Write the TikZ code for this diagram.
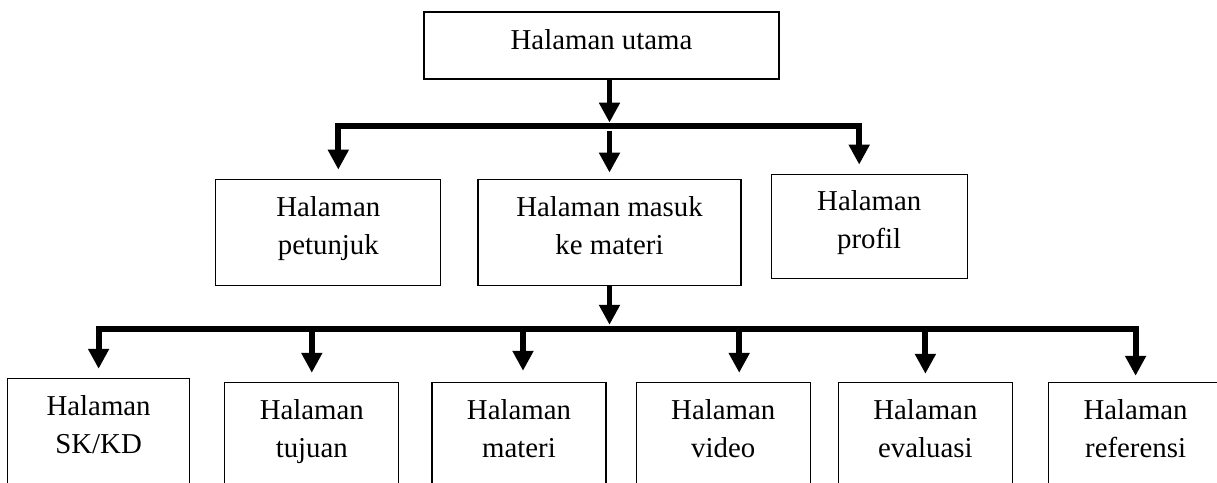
\documentclass[tikz,border=0pt]{standalone}
\usepackage{fontspec}
\setmainfont{Liberation Serif}
\usetikzlibrary{arrows.meta, positioning, calc}

\begin{document}
\begin{tikzpicture}[
    node_page/.style={rectangle, draw, line width=0.85pt, align=center, inner sep=0pt, minimum height=2.65cm, text height=1.6cm, text depth=0.5cm, font=\fontsize{20.5}{27}\selectfont},
    edge_path/.style={-{Triangle[width=0.5cm, length=0.5cm]}, line width=4.2pt},
    node distance=0.75cm and 0.75cm
  ]
    \useasboundingbox (0,0) rectangle (30.425,-12.075);

    \node[node_page, minimum width=8.875cm, minimum height=1.675cm, text height=0.5cm, text depth=0.275cm] (utama) at (15.0375,-1.1375) {Halaman utama};

    \node[node_page, minimum width=6.575cm, below=2.475cm of utama, xshift=0.2cm] (masuk) {Halaman masuk\\ke materi};
    \node[node_page, minimum width=5.625cm, left=0.9cm of masuk] (petunjuk) {Halaman\\petunjuk};
    \node[node_page, minimum width=4.9cm, minimum height=2.6cm, right=0.725cm of masuk, yshift=0.15cm] (profil) {Halaman\\profil};

    \node[node_page, minimum width=4.35cm, below=2.4cm of masuk, xshift=-2.2625cm] (materi) {Halaman\\materi};
    \node[node_page, minimum width=4.35cm, left=0.8cm of materi] (tujuan) {Halaman\\tujuan};
    \node[node_page, minimum width=4.55cm, left=0.85cm of tujuan, yshift=0.1cm] (skkd) {Halaman\\SK/KD};
    \node[node_page, minimum width=4.35cm, right=0.725cm of materi] (video) {Halaman\\video};
    \node[node_page, minimum width=4.35cm, right=0.675cm of video] (evaluasi) {Halaman\\evaluasi};
    \node[node_page, minimum width=4.35cm, right=0.875cm of evaluasi] (referensi) {Halaman\\referensi};

    \coordinate[above=1.325cm of masuk] (bus_up);
    \coordinate[below=1.075cm of masuk] (bus_low);

    \draw[edge_path, shorten >=0.075cm] (utama.south -| bus_up) -- (bus_up);
    \draw[edge_path, shorten >=0.225cm] (bus_up) -| ([xshift=0.25cm]petunjuk.north);
    \draw[edge_path, shorten >=0.225cm] (bus_up) -| ([xshift=-0.25cm]profil.north);
    \draw[edge_path, shorten <=0.125cm, shorten >=0.15cm] (bus_up) -- (masuk.north);

    \draw[edge_path, shorten >=0.1cm] (masuk) -- (bus_low);
    \draw[edge_path, shorten >=0.225cm] (bus_low) -| (skkd.north);
    \draw[edge_path, shorten >=0.15cm] (bus_low) -| (referensi.north);

    \draw[edge_path, shorten >=0.225cm] (tujuan.north |- bus_low) -- (tujuan.north);
    \draw[edge_path, shorten >=0.275cm] ([xshift=0.1cm]materi.north |- bus_low) -- ([xshift=0.1cm]materi.north);
    \draw[edge_path, shorten >=0.225cm] ([xshift=0.4cm]video.north |- bus_low) -- ([xshift=0.4cm]video.north);
    \draw[edge_path, shorten >=0.2cm] (evaluasi.north |- bus_low) -- (evaluasi.north);
  \end{tikzpicture}
\end{document}
